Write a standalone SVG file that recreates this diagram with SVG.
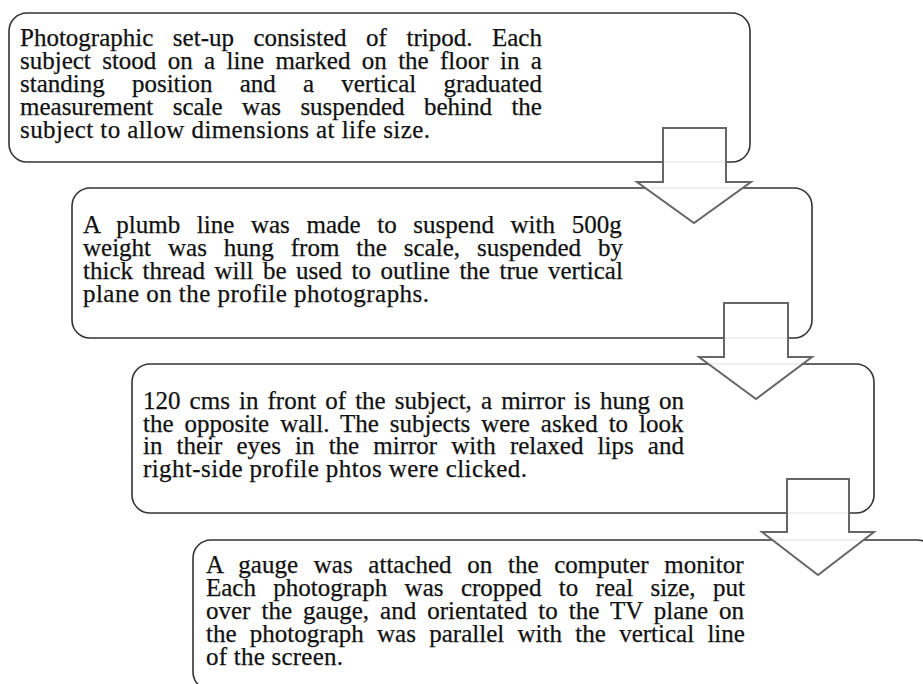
<svg xmlns="http://www.w3.org/2000/svg" width="923" height="684" viewBox="0 0 923 684">
<style>
.box{fill:#fff;stroke:#333;stroke-width:1.6}
.arr{fill:#fff;fill-opacity:0.9;stroke:#666;stroke-width:2;stroke-linejoin:miter}
text{font-family:"Liberation Serif","Times New Roman",serif;font-size:25px;fill:#111;stroke:#111;stroke-width:0.25}
</style>
<rect width="923" height="684" fill="#fff"/>
<g id="node1">
<rect class="box" x="9" y="13" width="741" height="149" rx="18"/>
<text x="20" y="46" word-spacing="13.3">Photographic set-up consisted of tripod. Each</text>
<text x="20" y="69" word-spacing="5.12">subject stood on a line marked on the floor in a</text>
<text x="20" y="92" word-spacing="20.94">standing position and a vertical graduated</text>
<text x="20" y="115" word-spacing="13.17">measurement scale was suspended behind the</text>
<text x="20" y="138" textLength="410" lengthAdjust="spacing">subject to allow dimensions at life size.</text>
</g>
<g id="node2">
<rect class="box" x="72" y="188" width="740" height="150" rx="18"/>
<text x="83" y="233" word-spacing="10.39">A plumb line was made to suspend with 500g</text>
<text x="83" y="256" word-spacing="10.69">weight was hung from the scale, suspended by</text>
<text x="83" y="279" word-spacing="3.29">thick thread will be used to outline the true vertical</text>
<text x="83" y="302" textLength="346" lengthAdjust="spacing">plane on the profile photographs.</text>
</g>
<g id="node3">
<rect class="box" x="132" y="364" width="742" height="149" rx="18"/>
<text x="143" y="409" word-spacing="2.85">120 cms in front of the subject, a mirror is hung on</text>
<text x="143" y="432" word-spacing="4.7">the opposite wall. The subjects were asked to look</text>
<text x="143" y="454" word-spacing="7.88">in their eyes in the mirror with relaxed lips and</text>
<text x="143" y="477" textLength="384" lengthAdjust="spacing">right-side profile phtos were clicked.</text>
</g>
<g id="node4">
<rect class="box" x="193" y="540" width="742" height="150" rx="18"/>
<text x="206" y="573" word-spacing="9.45">A gauge was attached on the computer monitor</text>
<text x="206" y="596" word-spacing="11.14">Each photograph was cropped to real size, put</text>
<text x="206" y="619" word-spacing="4.81">over the gauge, and orientated to the TV plane on</text>
<text x="206" y="642" word-spacing="7.07">the photograph was parallel with the vertical line</text>
<text x="206" y="665" textLength="137" lengthAdjust="spacing">of the screen.</text>
</g>
<g id="connectors">
<polygon class="arr" points="663,128 726,128 726,182 751,182 694,223 637,182 663,182"/>
<polygon class="arr" points="724,303 788,303 788,357 812,357 756,399 699,357 724,357"/>
<polygon class="arr" points="787,479 849,479 849,532 874,532 818,575 762,532 787,532"/>
</g>
</svg>
